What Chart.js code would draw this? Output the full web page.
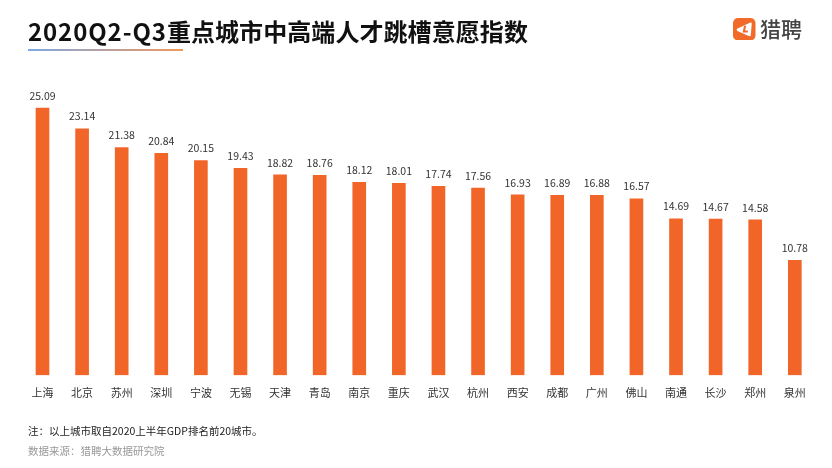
<!DOCTYPE html>
<html>
<head>
<meta charset="utf-8">
<script src="https://cdn.jsdelivr.net/npm/chart.js@4/dist/chart.umd.min.js"></script>
<style>
  html, body { margin: 0; padding: 0; background: #fff; }
  body { width: 832px; height: 468px; position: relative; overflow: hidden; font-family: "Noto Sans CJK SC", sans-serif; }
  #chartBox { position: absolute; left: 0; top: 0; width: 832px; height: 468px; }
  .title { position: absolute; left: 28px; top: 13px; font-size: 24px; font-weight: 700; color: #111; line-height: 36px; white-space: nowrap; letter-spacing: 0.07px; }
  .title span { letter-spacing: 0.9px; }
  .rule { position: absolute; left: 28px; top: 49px; width: 155px; height: 2px; background: linear-gradient(90deg, #7fa8e4, #f0985a); }
  .logo { position: absolute; left: 733px; top: 17.5px; width: 22.5px; height: 22.5px; }
  .brand { position: absolute; left: 760px; top: 13px; font-size: 21px; line-height: 30px; color: #444; font-weight: 500; white-space: nowrap; }
  .note { position: absolute; left: 28px; top: 423px; font-size: 10.5px; line-height: 16px; color: #222; white-space: nowrap; }
  .source { position: absolute; left: 28px; top: 443px; font-size: 10.5px; line-height: 16px; color: #999; white-space: nowrap; }
</style>
</head>
<body>
<div id="chartBox"><canvas id="cityChart"></canvas></div>
<div class="title"><span>2020Q2-Q3</span>重点城市中高端人才跳槽意愿指数</div>
<div class="rule"></div>
<svg class="logo" viewBox="0 0 22 22">
  <rect width="22" height="22" rx="5" fill="#f26a2a"/>
  <path d="M4 10.5 L16.5 4.6 Q18.4 3.9 18.3 5.8 L17.4 16.6 Q17.2 18.4 15.5 17.7 L4.2 12.6 Q3 11.5 4 10.5 Z" fill="#fff"/>
  <path d="M11.8 7.5 L10.6 13.2 L14.5 13.2" fill="none" stroke="#f26a2a" stroke-width="2"/>
</svg>
<div class="brand">猎聘</div>
<div class="note">注：以上城市取自2020上半年GDP排名前20城市。</div>
<div class="source">数据来源：猎聘大数据研究院</div>
<script>
const cities = ['上海','北京','苏州','深圳','宁波','无锡','天津','青岛','南京','重庆','武汉','杭州','西安','成都','广州','佛山','南通','长沙','郑州','泉州'];
const index = [25.09,23.14,21.38,20.84,20.15,19.43,18.82,18.76,18.12,18.01,17.74,17.56,16.93,16.89,16.88,16.57,14.69,14.67,14.58,10.78];

// value labels over the bars
const barLabels = {
  id: 'barLabels',
  afterDatasetsDraw(chart) {
    const ctx = chart.ctx;
    ctx.save();
    ctx.font = '10.5px "Noto Sans CJK SC", sans-serif';
    ctx.fillStyle = '#333';
    ctx.textAlign = 'center';
    ctx.textBaseline = 'bottom';
    chart.getDatasetMeta(0).data.forEach((bar, i) => {
      ctx.fillText(index[i].toFixed(2), bar.x, bar.y - 7);
    });
    ctx.restore();
  }
};

new Chart(document.getElementById('cityChart'), {
  type: 'bar',
  data: {
    labels: cities,
    datasets: [{ data: index, backgroundColor: '#f26529', barThickness: 13 }]
  },
  options: {
    responsive: true,
    maintainAspectRatio: false,
    animation: false,
    layout: { padding: { left: 22.7, right: 17.4, top: 55.7, bottom: 65.6 } },
    plugins: { legend: { display: false }, tooltip: { enabled: false } },
    scales: {
      x: {
        grid: { display: false },
        border: { display: false },
        ticks: {
          color: '#333',
          font: { size: 11, family: '"Noto Sans CJK SC", sans-serif' },
          maxRotation: 0,
          autoSkip: false,
          padding: 3
        }
      },
      y: { display: false, min: 0, max: 30 }
    }
  },
  plugins: [barLabels]
});
</script>
</body>
</html>
